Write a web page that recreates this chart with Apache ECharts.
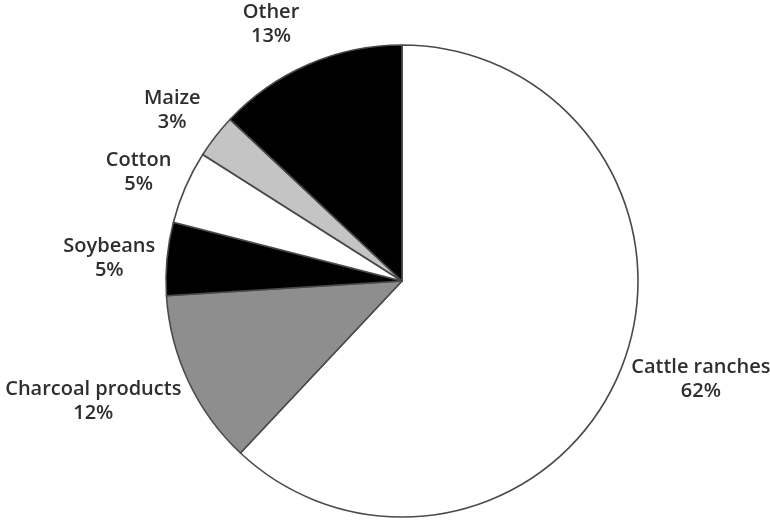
<!DOCTYPE html>
<html>
<head>
    <meta charset="UTF-8">
    <title>Deforestation causes</title>
    <script src="https://cdn.jsdelivr.net/npm/echarts@6/dist/echarts.min.js"></script>
    <style>
        html, body { margin: 0; padding: 0; background: #fff; }
    </style>
</head>
<body>
    <div id="main" style="width:770px;height:521px;"></div>
    <script>
        // slices, clockwise from 12 o'clock
        var categories = ['Cattle ranches', 'Charcoal products', 'Soybeans', 'Cotton', 'Maize', 'Other'];
        var shares = [62, 12, 5, 5, 3, 13];
        var fills = ['#ffffff', '#8e8e8e', '#000000', '#ffffff', '#c4c4c4', '#000000'];

        // small nudges, labels don't sit exactly on the mid angle in the original
        var nudge = {
            'Cattle ranches': [32, -7],
            'Charcoal products': [-49, -2],
            'Soybeans': [-7, 4],
            'Cotton': [0, 5],
            'Maize': [-3, 5],
            'Other': [-17, 7]
        };

        var myChart = echarts.init(document.getElementById('main'));

        var pieData = categories.map(function (c, i) {
            return { name: c, value: shares[i], itemStyle: { color: fills[i] } };
        });
        var labelData = categories.map(function (c, i) {
            var d = { name: c, value: shares[i] };
            if (nudge[c]) d.label = { offset: nudge[c] };
            return d;
        });

        var option = {
            backgroundColor: '#ffffff',
            animation: false,
            series: [
                {
                    type: 'pie',
                    center: [402, 281],
                    radius: 236,
                    startAngle: 90,
                    clockwise: true,
                    silent: true,
                    label: { show: false },
                    labelLine: { show: false },
                    itemStyle: { borderColor: '#4a4a4a', borderWidth: 1.6 },
                    data: pieData
                },
                {
                    // invisible ring only used to place the labels
                    type: 'pie',
                    center: [402, 281],
                    radius: [236, 332],
                    startAngle: 90,
                    clockwise: true,
                    silent: true,
                    itemStyle: { color: 'rgba(0,0,0,0)', borderWidth: 0 },
                    labelLine: { show: false },
                    label: {
                        show: true,
                        position: 'inside',
                        rotate: 0,
                        formatter: '{b}\n{c}%',
                        fontFamily: 'Open Sans',
                        fontWeight: 600,
                        fontSize: 20,
                        lineHeight: 24,
                        color: '#2e2e2e',
                        align: 'center'
                    },
                    data: labelData
                }
            ]
        };
        myChart.setOption(option);
    </script>
</body>
</html>
